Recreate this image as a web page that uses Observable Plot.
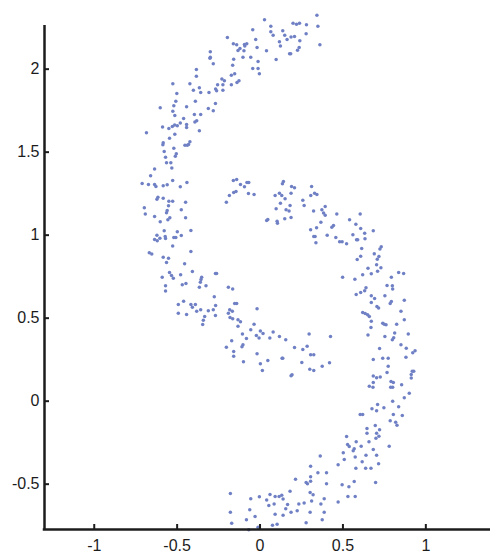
<!DOCTYPE html>
<html>
<head>
<meta charset="utf-8">
<script src="https://cdn.jsdelivr.net/npm/d3@7"></script>
<script src="https://cdn.jsdelivr.net/npm/@observablehq/plot@0.6"></script>
<style>
  html, body { margin: 0; padding: 0; background: #fff; }
  #chart svg { display: block; }
</style>
</head>
<body>
<div id="chart"></div>
<script>
// Sample coordinates of the spiral-shaped point cloud
const xValues = [
  0.343, 0.027, 0.349, 0.065, 0.199, 0.220, 0.238, 0.280, -0.044, 0.065,
  0.079, 0.137, 0.149, 0.187, 0.208, 0.278, -0.197, -0.026, 0.163, 0.117,
  0.240, 0.361, -0.161, -0.141, -0.094, -0.080, -0.092, -0.121, -0.133, -0.097,
  -0.018, 0.123, 0.039, 0.236, 0.226, 0.185, 0.178, -0.300, -0.300, -0.302,
  -0.103, -0.056, -0.159, 0.097, -0.012, -0.282, -0.165, -0.384, -0.044, -0.012,
  -0.004, -0.384, -0.173, -0.153, -0.230, -0.215, -0.127, -0.139, -0.526, -0.423,
  -0.256, -0.224, -0.173, -0.366, -0.402, -0.268, -0.262, -0.224, -0.502, -0.358,
  -0.308, -0.508, -0.390, -0.269, -0.602, -0.520, -0.443, -0.312, -0.282, -0.526,
  -0.514, -0.396, -0.358, -0.461, -0.382, -0.393, -0.481, -0.588, -0.550, -0.529,
  -0.515, -0.499, -0.443, -0.443, -0.685, -0.514, -0.366,
  -0.546, -0.584, -0.586, -0.423, -0.453, -0.439, -0.431, -0.520, -0.578, -0.505,
  -0.511, -0.570, -0.564, -0.538, -0.532, -0.636, -0.660, -0.527, -0.711, -0.673,
  -0.636, -0.628, -0.584, -0.560, -0.481, -0.441, -0.616, -0.622, -0.584, -0.550,
  -0.527, -0.449, -0.552, -0.698, -0.560, -0.564, -0.475, -0.692, -0.636, -0.544,
  -0.556, -0.449, -0.602, -0.578, -0.499, -0.417, -0.622, -0.604, -0.572, -0.570,
  -0.636, -0.620, -0.520, -0.508, -0.475, -0.527, -0.417, -0.668, -0.653, -0.584,
  -0.552,
  -0.161, -0.141, -0.118, -0.094, -0.079, -0.068, -0.185, -0.159, -0.145, -0.070,
  -0.036, -0.203,
  -0.564, -0.455, -0.546, -0.534, -0.523, -0.590, -0.479, -0.408, -0.269, -0.262,
  -0.352, -0.356, -0.360, -0.469, -0.447, -0.570, -0.570, -0.366, -0.326, -0.191,
  -0.165, -0.276, -0.461, -0.493, -0.417, -0.408, -0.390, -0.493, -0.443, -0.382,
  -0.358, -0.312, -0.282, -0.268, -0.153, -0.141, -0.334, -0.342, -0.346, -0.269,
  -0.183, -0.167, -0.191, -0.181, -0.165, -0.133, -0.118, -0.018, -0.133, -0.036,
  -0.056, -0.106, -0.082, 0.002, 0.018, -0.022, -0.006, -0.171, -0.203, -0.103,
  -0.109, -0.159, -0.159, -0.018, -0.100, 0.002, 0.014,
  0.141, 0.135, 0.190, 0.208, 0.311, 0.091, 0.117, 0.131, 0.151, 0.187,
  0.306, 0.329, 0.343, 0.258, 0.266, 0.123, 0.181, 0.097, 0.157, 0.175,
  0.323, 0.373, 0.393, 0.383, 0.393, 0.463, 0.040, 0.047, 0.103, 0.105,
  0.149, 0.187, 0.367, 0.540, 0.604, 0.578, 0.305, 0.341, 0.433, 0.443,
  0.607, 0.631, 0.683, 0.324, 0.332, 0.405, 0.337, 0.457, 0.560, 0.480,
  0.495, 0.522, 0.582, 0.589, 0.633, 0.613, 0.723, 0.731, 0.689, 0.717,
  0.707, 0.607, 0.586, 0.703, 0.651, 0.729, 0.709, 0.671, 0.619, 0.498,
  0.572, 0.792, 0.836, 0.866,
  0.079, 0.059, 0.117, 0.155, 0.047, 0.133, 0.137, 0.208, 0.258, 0.284,
  0.296, 0.305, 0.324, 0.252, 0.300, 0.324, 0.375, 0.419, 0.425, 0.187,
  0.193,
  0.766, 0.798, 0.800, 0.580, 0.607, 0.631, 0.639, 0.671, 0.691, 0.671,
  0.753, 0.792, 0.785, 0.870, 0.705, 0.715, 0.850, 0.619, 0.634, 0.649,
  0.659, 0.671, 0.669, 0.740, 0.749, 0.760, 0.824, 0.870, 0.651, 0.753,
  0.812, 0.806, 0.798, 0.894, 0.850, 0.882, 0.721, 0.921, 0.935, 0.880,
  0.683, 0.740, 0.773, 0.773, 0.766, 0.918, 0.927, 0.912, 0.912, 0.683,
  0.703, 0.725, 0.683, 0.659, 0.681, 0.790, 0.804, 0.800, 0.788, 0.854,
  0.900, 0.870, 0.800, 0.709, 0.836, 0.675, 0.703, 0.747, 0.858, 0.804,
  0.604, 0.619, 0.785, 0.818, 0.826, 0.695, 0.645, 0.721, 0.645, 0.703,
  0.717, 0.699, 0.522, 0.580, 0.528, 0.538, 0.657, 0.610, 0.568, 0.562,
  0.683, 0.779, 0.502, 0.363, 0.639, 0.703, 0.574, 0.508, 0.616, 0.471,
  0.305, 0.715, 0.578, 0.637, 0.669,
  0.349, 0.401, 0.214, 0.305, 0.278, 0.286, 0.305, 0.568, 0.495, 0.536,
  0.697, 0.401, 0.181, -0.179, -0.056, -0.004, 0.060, 0.091, 0.115, 0.131,
  0.139, 0.302, 0.320, 0.040, 0.053, 0.085, 0.166, 0.155, 0.266, 0.234,
  0.311, 0.387, 0.367, 0.471, 0.530, 0.574, -0.062, -0.179, -0.030, 0.091,
  0.139, 0.187, 0.224, 0.302, 0.387, -0.082, -0.171, 0.375, 0.075, 0.103,
  0.278, -0.068, -0.012
];

const yValues = [
  2.325, 2.297, 2.259, 2.259, 2.277, 2.271, 2.277, 2.267, 2.237, 2.225,
  2.205, 2.231, 2.205, 2.193, 2.197, 2.213, 2.191, 2.179, 2.179, 2.165,
  2.171, 2.147, 2.153, 2.147, 2.149, 2.153, 2.139, 2.125, 2.113, 2.111,
  2.131, 2.139, 2.111, 2.131, 2.114, 2.093, 2.093, 2.105, 2.072, 2.066,
  2.072, 2.072, 2.060, 2.058, 2.046, 2.032, 2.024, 1.998, 2.004, 2.004,
  1.972, 1.958, 1.964, 1.972, 1.940, 1.930, 1.930, 1.920, 1.912, 1.912,
  1.906, 1.906, 1.906, 1.888, 1.873, 1.880, 1.870, 1.873, 1.854, 1.860,
  1.860, 1.807, 1.807, 1.793, 1.767, 1.779, 1.773, 1.763, 1.749, 1.747,
  1.721, 1.727, 1.727, 1.703, 1.689, 1.681, 1.675, 1.651, 1.643, 1.655,
  1.663, 1.659, 1.667, 1.649, 1.617, 1.608, 1.629,
  1.584, 1.557, 1.545, 1.563, 1.542, 1.542, 1.546, 1.524, 1.504, 1.490,
  1.476, 1.470, 1.436, 1.436, 1.404, 1.398, 1.358, 1.330, 1.311, 1.305,
  1.305, 1.293, 1.297, 1.303, 1.291, 1.317, 1.229, 1.217, 1.223, 1.205,
  1.205, 1.199, 1.177, 1.165, 1.149, 1.135, 1.153, 1.127, 1.113, 1.105,
  1.093, 1.105, 1.081, 1.026, 1.020, 1.028, 1.000, 0.982, 0.992, 0.980,
  0.974, 0.966, 0.986, 0.986, 0.998, 0.934, 0.902, 0.894, 0.886, 0.867,
  0.861,
  1.330, 1.336, 1.305, 1.291, 1.317, 1.317, 1.239, 1.257, 1.263, 1.251,
  1.245, 1.199,
  0.836, 0.828, 0.775, 0.757, 0.741, 0.747, 0.761, 0.781, 0.769, 0.769,
  0.747, 0.733, 0.717, 0.701, 0.709, 0.695, 0.663, 0.687, 0.695, 0.687,
  0.675, 0.629, 0.602, 0.583, 0.583, 0.566, 0.583, 0.530, 0.522, 0.542,
  0.551, 0.545, 0.551, 0.577, 0.589, 0.589, 0.510, 0.488, 0.462, 0.516,
  0.551, 0.542, 0.530, 0.504, 0.496, 0.490, 0.478, 0.557, 0.452, 0.464,
  0.430, 0.404, 0.378, 0.422, 0.408, 0.396, 0.380, 0.364, 0.325, 0.340,
  0.328, 0.299, 0.271, 0.286, 0.237, 0.225, 0.185,
  1.323, 1.310, 1.293, 1.286, 1.293, 1.239, 1.253, 1.239, 1.219, 1.253,
  1.239, 1.253, 1.245, 1.211, 1.179, 1.193, 1.179, 1.159, 1.153, 1.145,
  1.145, 1.153, 1.173, 1.133, 1.120, 1.127, 1.089, 1.095, 1.084, 1.072,
  1.099, 1.107, 1.078, 1.093, 1.127, 1.066, 1.033, 1.045, 1.048, 1.058,
  1.040, 1.012, 1.026, 0.992, 0.992, 1.000, 0.954, 0.986, 1.002, 0.960,
  0.960, 0.948, 0.972, 0.972, 0.978, 0.920, 0.916, 0.930, 0.888, 0.872,
  0.855, 0.873, 0.854, 0.822, 0.801, 0.803, 0.783, 0.767, 0.761, 0.747,
  0.735, 0.747, 0.775, 0.769,
  0.416, 0.380, 0.390, 0.370, 0.245, 0.259, 0.259, 0.324, 0.311, 0.331,
  0.404, 0.280, 0.280, 0.233, 0.193, 0.185, 0.211, 0.231, 0.390, 0.153,
  0.159,
  0.697, 0.695, 0.675, 0.643, 0.655, 0.665, 0.683, 0.635, 0.619, 0.595,
  0.635, 0.601, 0.589, 0.608, 0.570, 0.562, 0.542, 0.534, 0.528, 0.520,
  0.510, 0.482, 0.444, 0.470, 0.464, 0.460, 0.464, 0.490, 0.398, 0.390,
  0.410, 0.382, 0.370, 0.404, 0.340, 0.319, 0.317, 0.292, 0.304, 0.265,
  0.251, 0.259, 0.259, 0.211, 0.173, 0.181, 0.181, 0.161, 0.139, 0.151,
  0.141, 0.145, 0.113, 0.090, 0.084, 0.119, 0.113, 0.084, 0.084, 0.099,
  0.048, 0.020, 0.000, -0.020, -0.034, -0.046, -0.058, -0.040, -0.086, -0.080,
  -0.080, -0.080, -0.118, -0.127, -0.145, -0.146, -0.164, -0.172, -0.193, -0.193,
  -0.211, -0.223, -0.213, -0.245, -0.261, -0.273, -0.245, -0.271, -0.287, -0.299,
  -0.291, -0.271, -0.311, -0.331, -0.325, -0.325, -0.337, -0.351, -0.365, -0.383,
  -0.392, -0.377, -0.404, -0.404, -0.404,
  -0.431, -0.431, -0.470, -0.455, -0.490, -0.498, -0.482, -0.484, -0.504, -0.516,
  -0.490, -0.498, -0.542, -0.556, -0.588, -0.576, -0.562, -0.574, -0.574, -0.566,
  -0.590, -0.550, -0.564, -0.596, -0.628, -0.620, -0.622, -0.648, -0.614, -0.620,
  -0.602, -0.588, -0.620, -0.608, -0.574, -0.574, -0.654, -0.669, -0.695, -0.681,
  -0.687, -0.669, -0.660, -0.669, -0.669, -0.714, -0.735, -0.714, -0.747, -0.741,
  -0.733, -0.775, -0.759
];

const xTicks = [-1, -0.5, 0, 0.5, 1];
const yTicks = [-0.5, 0, 0.5, 1, 1.5, 2];
const xDomain = [-1.3, 1.39];
const yDomain = [-0.773, 2.263];

const points = xValues.map((x, i) => ({x, y: yValues[i]}));

const ink = "#1c1c1c";

const chart = Plot.plot({
  width: 490,
  height: 551,
  marginLeft: 44,
  marginRight: 0,
  marginTop: 25,
  marginBottom: 22,
  style: {
    fontFamily: "'Liberation Sans', Arial, sans-serif",
    fontSize: "16px",
    color: ink,
    background: "#fff",
    overflow: "visible"
  },
  x: {domain: xDomain},
  y: {domain: yDomain},
  marks: [
    Plot.dot(points, {x: "x", y: "y", r: 1.75, fill: "#7080c4", stroke: "none"}),
    Plot.ruleX([xDomain[0]], {stroke: ink, strokeWidth: 2.5}),
    Plot.ruleY([yDomain[0]], {stroke: ink, strokeWidth: 2.5, strokeLinecap: "square"}),
    Plot.axisX(xTicks, {
      tickSize: -5,
      tickPadding: 15,
      strokeWidth: 2,
      tickFormat: (d) => String(d),
      label: null
    }),
    Plot.axisY(yTicks, {
      tickSize: -5,
      tickPadding: 10,
      strokeWidth: 2,
      tickFormat: (d) => String(d),
      label: null
    })
  ]
});

document.getElementById("chart").append(chart);
</script>
</body>
</html>
